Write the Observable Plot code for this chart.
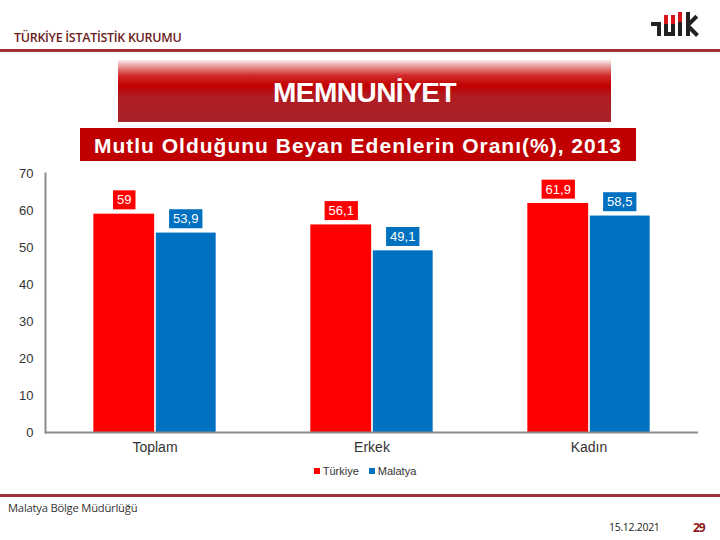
<!DOCTYPE html>
<html>
<head>
<meta charset="utf-8">
<script src="https://cdn.jsdelivr.net/npm/d3@7"></script>
<script src="https://cdn.jsdelivr.net/npm/@observablehq/plot@0.6"></script>
<style>
  html, body { margin: 0; padding: 0; background: #fff; }
  #page { position: relative; width: 720px; height: 540px; overflow: hidden; background: #fff; font-family: "Liberation Sans", Arial, sans-serif; }
  .abs { position: absolute; }
  #org { left: 14px; top: 29px; font-family: "Open Sans", sans-serif; font-size: 12.5px; font-weight: 600; color: #6b1c1c; letter-spacing: -0.3px; }
  #hline { left: 0; top: 49px; width: 720px; height: 3px; background: #a0333a; }
  #fline { left: 0; top: 494px; width: 720px; height: 3px; background: #a0333a; }
  #mainTitle { left: 118px; top: 60px; width: 493px; height: 62px;
    background: linear-gradient(to bottom, #fbeeee 0%, #e89a9a 10%, #d22a2a 25%, #c00000 42%, #b01c22 58%, #a8232a 100%);
    color: #fff; font-weight: bold; font-size: 28px; text-align: center; line-height: 66px; letter-spacing: -0.5px; }
  #subTitle { left: 80px; top: 128px; width: 556px; height: 33px; background: #c00000; color: #fff;
    font-size: 21px; font-weight: bold; text-align: center; line-height: 35px; letter-spacing: 1px; white-space: nowrap; }
  #chart { left: 0; top: 160px; }
  #legend { left: 0; top: 465px; width: 730px; text-align: center; font-size: 11px; color: #333; }
  #legend span.sw { display: inline-block; width: 6px; height: 6px; margin-right: 3px; vertical-align: 1px; }
  #legend span.it { margin: 0 5px; }
  #foot1 { left: 8px; top: 500px; font-family: "Open Sans", sans-serif; font-size: 11.2px; color: #333; letter-spacing: -0.2px; }
  #foot2 { left: 609px; top: 520px; font-family: "Open Sans", sans-serif; font-size: 10.5px; color: #222; letter-spacing: -0.3px; }
  #foot3 { left: 693px; top: 519px; font-family: "Open Sans", sans-serif; font-size: 12px; font-weight: bold; color: #8b1a1a; letter-spacing: -1px; }
  .lg { position: absolute; background: #222; }
  .lr { position: absolute; background: #d9141b; }
</style>
</head>
<body>
<div id="page">
  <div id="org" class="abs">TÜRKİYE İSTATİSTİK KURUMU</div>
  <div id="logo" class="abs" style="left:0;top:0;width:720px;height:50px;">
    <div class="lg" style="left:651px;top:22px;width:10px;height:4px;"></div>
    <div class="lg" style="left:657px;top:22px;width:4px;height:14px;"></div>
    <div class="lg" style="left:664px;top:24px;width:4px;height:12px;"></div>
    <div class="lr" style="left:664px;top:15px;width:4px;height:9px;"></div>
    <div class="lg" style="left:671px;top:24px;width:4px;height:12px;"></div>
    <div class="lr" style="left:671px;top:15px;width:4px;height:9px;"></div>
    <div class="lg" style="left:664px;top:32px;width:11px;height:4px;"></div>
    <div class="lg" style="left:678px;top:22px;width:4px;height:14px;"></div>
    <div class="lr" style="left:678px;top:12px;width:4px;height:10px;"></div>
    <div class="lg" style="left:686px;top:12px;width:4px;height:24px;"></div>
    <div class="lg" style="left:689px;top:22px;width:11px;height:4px;transform:rotate(-45deg);transform-origin:0 50%;"></div>
    <div class="lg" style="left:689px;top:25px;width:12px;height:4px;transform:rotate(45deg);transform-origin:0 50%;"></div>
  </div>
  <div id="hline" class="abs"></div>
  <div id="mainTitle" class="abs">MEMNUNİYET</div>
  <div id="subTitle" class="abs">Mutlu Olduğunu Beyan Edenlerin Oranı(%), 2013</div>
  <div id="chart" class="abs"></div>
  <div id="legend" class="abs"></div>
  <div id="fline" class="abs"></div>
  <div id="foot1" class="abs">Malatya Bölge Müdürlüğü</div>
  <div id="foot2" class="abs">15.12.2021</div>
  <div id="foot3" class="abs">29</div>
</div>
<script>
// ---- data ----
const categories = ["Toplam", "Erkek", "Kadın"];
const seriesNames = ["Türkiye", "Malatya"];
const turkiye = [59, 56.1, 61.9];
const malatya = [53.9, 49.1, 58.5];
const yTicks = [0, 10, 20, 30, 40, 50, 60, 70];
const colors = ["#ff0000", "#0070c0"];

const rowsTR = categories.map((c, i) => ({category: c, value: turkiye[i]}));
const rowsML = categories.map((c, i) => ({category: c, value: malatya[i]}));
const fmt = v => String(v).replace(".", ",");

const W = 720, H = 300;
const mL = 45, mR = 22;
const band = (W - mL - mR) / categories.length;
const barW = 61.5;
const outer = (band - 2 * barW) / 2;

const chart = Plot.plot({
  width: W, height: H,
  marginTop: 13, marginBottom: 28, marginLeft: mL, marginRight: mR,
  style: {fontFamily: "Liberation Sans, Arial, sans-serif", fontSize: "13px", color: "#333", background: "transparent"},
  x: {domain: categories, padding: 0, label: null, tickSize: 0, tickPadding: 10},
  y: {domain: [0, 70], ticks: yTicks, label: null, tickSize: 0, tickPadding: 12},
  marks: [
    Plot.barY(rowsTR, {x: "category", y: "value", fill: colors[0], insetLeft: outer, insetRight: outer + barW}),
    Plot.barY(rowsML, {x: "category", y: "value", fill: colors[1], insetLeft: outer + barW + 1, insetRight: outer}),
    Plot.ruleY([0], {stroke: "#8c8c8c", strokeWidth: 2}),
    Plot.frame({anchor: "left", stroke: "#8c8c8c", strokeWidth: 2}),
    Plot.text(rowsTR, {x: "category", y: "value", text: d => fmt(d.value), dx: -barW / 2, dy: -14, fill: "white", fontSize: 13}),
    Plot.text(rowsML, {x: "category", y: "value", text: d => fmt(d.value), dx: barW / 2, dy: -14, fill: "white", fontSize: 13})
  ]
});
document.getElementById("chart").appendChild(chart);

// x tick labels slightly larger
d3.select(chart).selectAll('g[aria-label="x-axis tick label"] text').style("font-size", "14px");

// label background boxes (text marks in order: Türkiye, Malatya)
const textGroups = chart.querySelectorAll('g[aria-label="text"]');
textGroups.forEach((g, gi) => {
  const col = colors[gi];
  g.querySelectorAll("text").forEach(t => {
    const bb = t.getBBox();
    const r = document.createElementNS("http://www.w3.org/2000/svg", "rect");
    r.setAttribute("x", bb.x - 4);
    r.setAttribute("y", bb.y - 2);
    r.setAttribute("width", bb.width + 8);
    r.setAttribute("height", bb.height + 4);
    r.setAttribute("fill", col);
    const tr = t.getAttribute("transform");
    if (tr) r.setAttribute("transform", tr);
    t.parentNode.insertBefore(r, t);
  });
});

// legend
const lg = document.getElementById("legend");
seriesNames.forEach((s, i) => {
  const it = document.createElement("span");
  it.className = "it";
  const sw = document.createElement("span");
  sw.className = "sw";
  sw.style.background = colors[i];
  it.appendChild(sw);
  it.appendChild(document.createTextNode(s));
  lg.appendChild(it);
});
</script>
</body>
</html>
